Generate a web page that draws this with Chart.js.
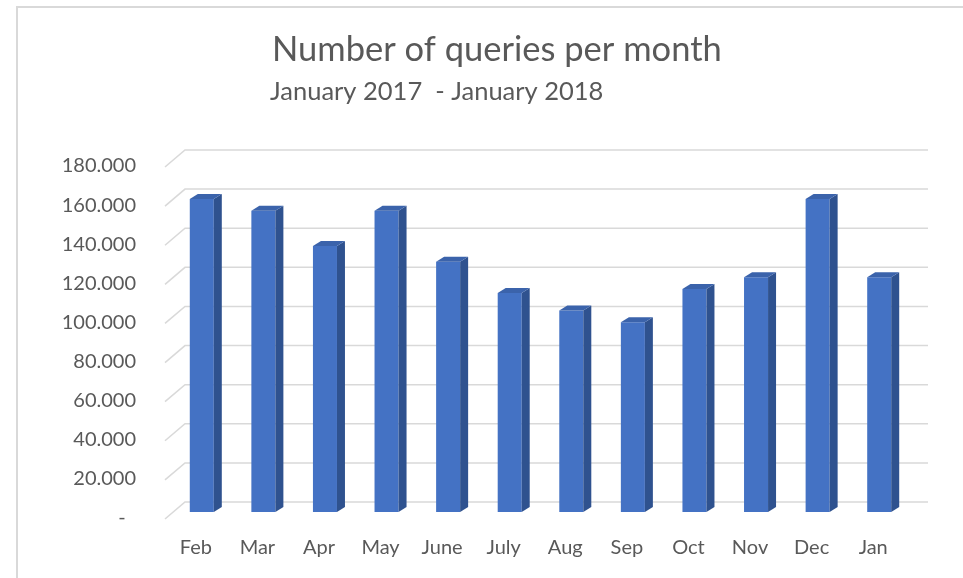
<!DOCTYPE html>
<html>
<head>
<meta charset="utf-8">
<script src="https://cdn.jsdelivr.net/npm/chart.js@4.4.0/dist/chart.umd.min.js"></script>
<style>
html, body { margin: 0; padding: 0; background: #fff; }
#wrap { position: relative; width: 963px; height: 578px; }
</style>
</head>
<body>
<div id="wrap"><canvas id="queriesChart"></canvas></div>
<script>
const months = ["Feb", "Mar", "Apr", "May", "June", "July", "Aug", "Sep", "Oct", "Nov", "Dec", "Jan"];
const queries = [160000, 154000, 136000, 154000, 128000, 112000, 103000, 97000, 114000, 120000, 160000, 120000];
const yMax = 180000;
const yStep = 20000;
const titleText = "Number of queries per month";
const subtitleText = "January 2017  - January 2018";

const textColor = "#595959";
const gridColor = "#d9d9d9";

function fmtThousands(v) {
    if (v === 0) return "-  ";
    return String(v).replace(/\B(?=(\d{3})+(?!\d))/g, ".");
}

// chart frame + title lines
const frame = {
    id: "frame",
    beforeDraw(chart) {
        const ctx = chart.ctx;
        ctx.save();
        ctx.fillStyle = "#fff";
        ctx.fillRect(0, 0, chart.width, chart.height);
        ctx.strokeStyle = gridColor;
        ctx.lineWidth = 2;
        ctx.beginPath();
        ctx.moveTo(17, chart.height);
        ctx.lineTo(17, 7);
        ctx.lineTo(chart.width, 7);
        ctx.stroke();
        ctx.fillStyle = textColor;
        ctx.textBaseline = "alphabetic";
        ctx.font = "34.5px Lato";
        ctx.fillText(titleText, 272, 61);
        ctx.font = "25.5px Lato";
        ctx.fillText(subtitleText, 270, 100);
        ctx.restore();
    }
};

// gridlines on the back wall, with the slanted floor edge
const wallGrid = {
    id: "wallGrid",
    beforeDatasetsDraw(chart) {
        const { ctx, chartArea, scales: { y } } = chart;
        ctx.save();
        ctx.strokeStyle = gridColor;
        ctx.lineWidth = 1.5;
        y.ticks.forEach(t => {
            const py = y.getPixelForValue(t.value) - 10;
            ctx.beginPath();
            ctx.moveTo(chartArea.left - 6, py + 17);
            ctx.lineTo(chartArea.left + 14, py);
            ctx.lineTo(chartArea.right + 18, py);
            ctx.stroke();
        });
        ctx.restore();
    }
};

// side and top faces for a 3D column look
const barDepth = {
    id: "barDepth",
    afterDatasetsDraw(chart) {
        const ctx = chart.ctx;
        const dx = 8, dy = 5;
        ctx.save();
        chart.getDatasetMeta(0).data.forEach(bar => {
            const { x, y, base, width } = bar.getProps(["x", "y", "base", "width"], true);
            const l = x - width / 2, r = x + width / 2;
            ctx.fillStyle = "#2f528f";
            ctx.beginPath();
            ctx.moveTo(r, y);
            ctx.lineTo(r + dx, y - dy);
            ctx.lineTo(r + dx, base - dy);
            ctx.lineTo(r, base);
            ctx.closePath();
            ctx.fill();
            ctx.fillStyle = "#3b63ab";
            ctx.beginPath();
            ctx.moveTo(l, y);
            ctx.lineTo(l + dx, y - dy);
            ctx.lineTo(r + dx, y - dy);
            ctx.lineTo(r, y);
            ctx.closePath();
            ctx.fill();
        });
        ctx.restore();
    }
};

new Chart(document.getElementById("queriesChart"), {
    type: "bar",
    data: {
        labels: months,
        datasets: [{
            label: "Queries",
            data: queries,
            backgroundColor: "#4472c4",
            categoryPercentage: 1,
            barPercentage: 0.39,
        }],
    },
    options: {
        responsive: true,
        maintainAspectRatio: false,
        animation: false,
        layout: { padding: { top: 160, right: 53, bottom: 0, left: 0 } },
        plugins: {
            legend: { display: false },
            tooltip: { enabled: false },
        },
        scales: {
            x: {
                grid: { display: false, drawTicks: false },
                border: { display: false },
                ticks: {
                    color: textColor,
                    font: { family: "Lato", size: 20 },
                    padding: 24,
                    labelOffset: -6,
                    maxRotation: 0,
                },
                afterFit: s => { s.height = 66; },
            },
            y: {
                min: 0,
                max: yMax,
                grid: { display: false, drawTicks: false },
                border: { display: false },
                ticks: {
                    stepSize: yStep,
                    color: textColor,
                    font: { family: "Lato", size: 20 },
                    padding: 35,
                    labelOffset: 6,
                    callback: v => fmtThousands(v),
                },
                afterFit: s => { s.width = 171; },
            },
        },
    },
    plugins: [frame, wallGrid, barDepth],
});
</script>
</body>
</html>
